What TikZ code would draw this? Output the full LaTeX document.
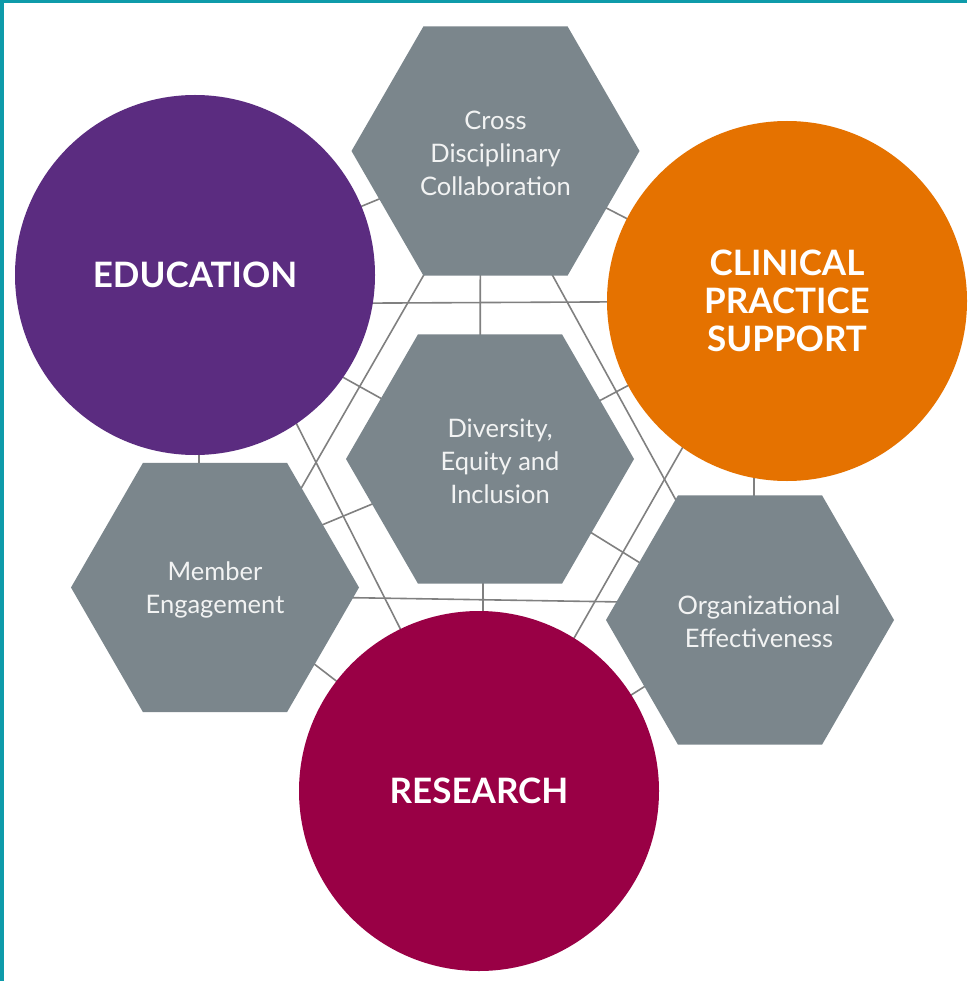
\documentclass[tikz,border=0pt]{standalone}
\usepackage{fontspec}
\setmainfont{Lato}
\usetikzlibrary{shapes.geometric,calc}
\pgfdeclarelayer{back}
\pgfdeclarelayer{bg}
\pgfsetlayers{back,bg,main}
\definecolor{teal}{HTML}{0E9BAA}
\definecolor{hexgray}{HTML}{7B868C}
\definecolor{linegray}{HTML}{808080}
\definecolor{edpurple}{HTML}{5B2C80}
\definecolor{clorange}{HTML}{E57200}
\definecolor{resred}{HTML}{990045}
\definecolor{hextext}{HTML}{F2F3F3}
\tikzset{
  hexbox/.style={regular polygon, regular polygon sides=6, minimum size=288pt, inner sep=0pt, fill=hexgray, draw=none},
  bigcircle/.style={circle, minimum size=360pt, inner sep=0pt, draw=none, text=white, align=center,
    font=\fontsize{35}{38}\selectfont\bfseries},
  hexlabel/.style={text=hextext, align=center, font=\fontsize{25.5}{33}\selectfont},
  link/.style={draw=linegray, line width=1.6pt}
}
\begin{document}
\begin{tikzpicture}[x=1pt,y=-1pt]
\useasboundingbox (0,0) rectangle (967,981);
\begin{pgfonlayer}{back}
\fill[white] (0,0) rectangle (967,981);
\fill[teal] (0,0) rectangle (4,981);
\fill[teal] (0,0) rectangle (967,3);
\end{pgfonlayer}

% hexagons
\node[hexbox] (cross) at (495.5,151) {};
\node[hexbox] (div) at (490,459) {};
\node[hexbox] (mem) at (215,587.5) {};
\node[hexbox] (org) at (750,620) {};

% circles
\node[bigcircle, fill=edpurple] (ed) at (195,275) {EDUCATION};
\node[bigcircle, fill=clorange] (cl) at (787,301) {CLINICAL\\PRACTICE\\SUPPORT};
\node[bigcircle, fill=resred] (res) at (479,791) {RESEARCH};

% hexagon labels
\node[hexlabel] (crosstxt) at ($(cross.center)+(0,2)$) {Cross\\Disciplinary\\Collaboration};
\node[hexlabel] (divtxt) at ($(div.center)+(10,2)$) {Diversity,\\Equity and\\Inclusion};
\node[hexlabel] (memtxt) at ($(mem.center)+(0,2)$) {Member\\Engagement};
\node[hexlabel] (orgtxt) at ($(org.center)+(9,2)$) {Organizational\\Effectiveness};

\begin{pgfonlayer}{bg}
  % connectors (behind the shapes)
  \draw[link] (ed.center) -- (cross.center);
  \draw[link] ($(ed.center)+(0,29)$) -- (cl.center);
  \draw[link] ($(cross.center)+(-15,0)$) -- ($(div.center)+(-10,0)$);
  \draw[link] ($(cross.center)+(-62.5,108)$) -- ($(mem.center)+(80,-88.5)$);
  \draw[link] ($(cross.center)+(47.5,107)$) -- ($(org.center)+(-67,-107)$);
  \draw[link] ($(ed.center)+(0,20)$) -- (div.center);
  \draw[link] ($(ed.center)+(93,132)$) -- ($(res.center)+(-70,-145)$);
  \draw[link] ($(ed.center)+(4,0)$) -- ($(mem.center)+(-16,0)$);
  \draw[link] ($(mem.center)+(0,-18)$) -- ($(div.center)+(0,-4)$);
  \draw[link] ($(mem.center)+(0,8)$) -- ($(org.center)+(0,-16)$);
  \draw[link] ($(div.center)+(-7,0)$) -- ($(res.center)+(4,0)$);
  \draw[link] (mem.center) -- (res.center);
  \draw[link] (div.center) -- (cl.center);
  \draw[link] (cross.center) -- (cl.center);
  \draw[link] ($(cl.center)+(-33,0)$) -- ($(org.center)+(4,0)$);
  \draw[link] ($(cl.center)+(-95,130)$) -- ($(res.center)+(86,-137)$);
  \draw[link] ($(div.center)+(0,11)$) -- ($(org.center)+(0,11)$);
  \draw[link] (res.center) -- (org.center);
\end{pgfonlayer}
\end{tikzpicture}
\end{document}
